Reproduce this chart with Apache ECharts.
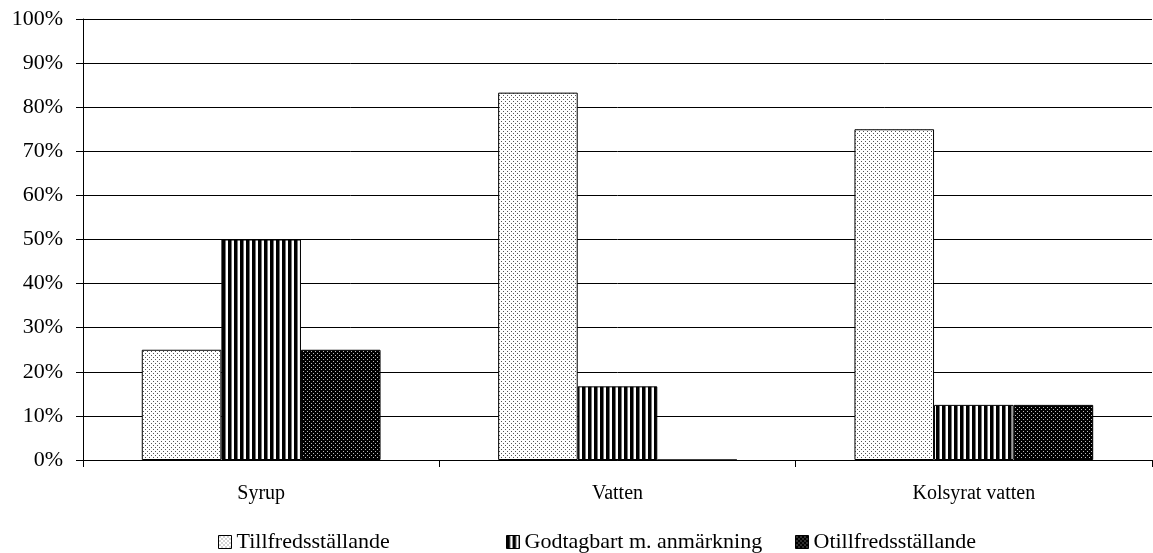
<!DOCTYPE html>
<html>
<head>
<meta charset="utf-8">
<script src="https://cdn.jsdelivr.net/npm/echarts@6/dist/echarts.min.js"></script>
<style>
html,body{margin:0;padding:0;background:#fff;}
#c{width:1153px;height:553px;}
</style>
</head>
<body>
<div id="c"></div>
<script>
const categories = ['Syrup', 'Vatten', 'Kolsyrat vatten'];
const seriesNames = ['Tillfredsställande', 'Godtagbart m. anmärkning', 'Otillfredsställande'];
const tillfreds = [25, 83.3, 75];
const godtagbart = [50, 16.7, 12.5];
const otillfreds = [25, 0, 12.5];
const yTicks = [0, 10, 20, 30, 40, 50, 60, 70, 80, 90, 100];

function makeTile(w, h, draw) {
  const c = document.createElement('canvas');
  c.width = w; c.height = h;
  const ctx = c.getContext('2d');
  draw(ctx);
  return c;
}
const lightDots = makeTile(4, 4, ctx => {
  ctx.fillStyle = '#fff'; ctx.fillRect(0, 0, 4, 4);
  ctx.fillStyle = '#555';
  ctx.fillRect(1, 1, 1, 1);
  ctx.fillRect(3, 3, 1, 1);
});
const stripes = makeTile(6, 6, ctx => {
  ctx.fillStyle = '#fff'; ctx.fillRect(0, 0, 6, 6);
  ctx.fillStyle = '#000'; ctx.fillRect(0, 0, 3, 6);
  ctx.fillStyle = '#777'; ctx.fillRect(3, 0, 1, 6);
});
const darkDots = makeTile(4, 4, ctx => {
  ctx.fillStyle = '#000'; ctx.fillRect(0, 0, 4, 4);
  ctx.fillStyle = '#bbb';
  ctx.fillRect(1, 1, 1, 1);
  ctx.fillRect(3, 3, 1, 1);
});
const patterns = [lightDots, stripes, darkDots];
const values = [tillfreds, godtagbart, otillfreds];
const legendLefts = [213, 501, 790];

const FONT = "'Liberation Serif', 'Times New Roman', serif";
const chart = echarts.init(document.getElementById('c'), null, {renderer: 'canvas'});
chart.setOption({
  animation: false,
  backgroundColor: '#fff',
  textStyle: {fontFamily: FONT},
  grid: {left: 83, right: 1, top: 19, bottom: 93, containLabel: false},
  legend: seriesNames.map((name, i) => ({
    bottom: 0,
    left: legendLefts[i],
    padding: [5, 5, 0, 5],
    icon: 'rect',
    itemWidth: 13,
    itemHeight: 13,
    itemStyle: {borderColor: '#000', borderWidth: 1},
    textStyle: {fontFamily: FONT, fontSize: 22, color: '#000'},
    data: [name]
  })),
  xAxis: {
    type: 'category',
    data: categories,
    axisLine: {lineStyle: {color: '#000', width: 1}},
    axisTick: {show: true, length: 7, lineStyle: {color: '#000'}},
    axisLabel: {color: '#000', fontFamily: FONT, fontSize: 20, margin: 24}
  },
  yAxis: {
    type: 'value',
    min: yTicks[0],
    max: yTicks[yTicks.length - 1],
    interval: 10,
    axisLine: {show: true, lineStyle: {color: '#000', width: 1}},
    axisTick: {show: true, length: 7, lineStyle: {color: '#000'}},
    axisLabel: {color: '#000', fontFamily: FONT, fontSize: 22, margin: 20, formatter: '{value}%'},
    splitLine: {show: true, lineStyle: {color: '#000', width: 1}}
  },
  series: seriesNames.map((name, i) => ({
    name: name,
    type: 'bar',
    data: values[i],
    barGap: '0%',
    barCategoryGap: '33%',
    itemStyle: {
      color: {image: patterns[i], repeat: 'repeat'},
      borderColor: '#000',
      borderWidth: 1
    }
  }))
});
</script>
</body>
</html>
